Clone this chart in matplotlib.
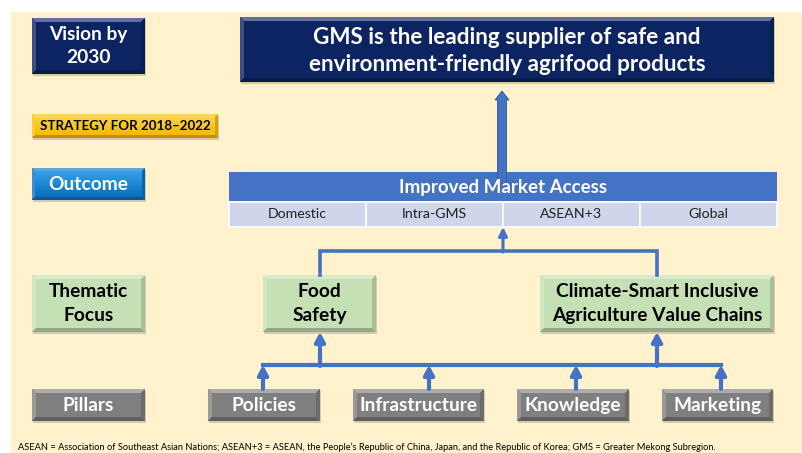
import matplotlib
matplotlib.use('Agg')
import matplotlib.pyplot as plt
from matplotlib.patches import Rectangle, Polygon, FancyArrow
import matplotlib.colors as mcolors
import numpy as np

plt.rcParams['font.family'] = ['Lato', 'DejaVu Sans']

# text content
row_labels = ['Vision by\n2030', 'STRATEGY FOR 2018\u20132022', 'Outcome', 'Thematic\nFocus', 'Pillars']
vision_text = 'GMS is the leading supplier of safe and\nenvironment-friendly agrifood products'
outcome_title = 'Improved Market Access'
markets = ['Domestic', 'Intra-GMS', 'ASEAN+3', 'Global']
themes = ['Food\nSafety', 'Climate-Smart Inclusive\nAgriculture Value Chains']
pillars = ['Policies', 'Infrastructure', 'Knowledge', 'Marketing']
footnote = ('ASEAN = Association of Southeast Asian Nations; ASEAN+3 = ASEAN, the People\u2019s Republic '
            'of China, Japan, and the Republic of Korea; GMS = Greater Mekong Subregion.')

NAVY = '#0c2461'
GREEN = '#c5e0b4'
GREY = '#7f7f7f'
LINE = '#4472c4'

fig = plt.figure(figsize=(8.03, 4.53), dpi=100)
ax = fig.add_axes([0, 0, 1, 1])
ax.set_xlim(0, 803)
ax.set_ylim(453, 0)
ax.axis('off')

# background panel
ax.add_patch(Rectangle((11, 12), 792, 441, facecolor='#fff2cc', edgecolor='none', zorder=0))


def shade(c, f):
    r, g, b = mcolors.to_rgb(c)
    if f > 0:
        return (r + (1 - r) * f, g + (1 - g) * f, b + (1 - b) * f)
    return (r * (1 + f), g * (1 + f), b * (1 + f))


def bevel_box(x0, y0, x1, y1, color, b=4, grad=None, z=2):
    # shadow
    ax.add_patch(Rectangle((x0 + 1.5, y0 + 1.5), x1 - x0, y1 - y0, facecolor='#b8b0a0',
                           edgecolor='none', alpha=0.6, zorder=z - 0.5))
    if grad is None:
        ax.add_patch(Rectangle((x0, y0), x1 - x0, y1 - y0, facecolor=color, edgecolor='none', zorder=z))
    else:
        cmap = mcolors.LinearSegmentedColormap.from_list('g', grad)
        g = np.linspace(0, 1, 64).reshape(-1, 1)
        ax.imshow(g, cmap=cmap, extent=(x0, x1, y1, y0), aspect='auto', zorder=z)
    # bevel edges
    ax.add_patch(Polygon([(x0, y0), (x1, y0), (x1 - b, y0 + b), (x0 + b, y0 + b)],
                         facecolor=shade(color, 0.35), edgecolor='none', zorder=z + 0.1))
    ax.add_patch(Polygon([(x0, y0), (x0 + b, y0 + b), (x0 + b, y1 - b), (x0, y1)],
                         facecolor=shade(color, 0.2), edgecolor='none', zorder=z + 0.1))
    ax.add_patch(Polygon([(x0, y1), (x0 + b, y1 - b), (x1 - b, y1 - b), (x1, y1)],
                         facecolor=shade(color, -0.25), edgecolor='none', zorder=z + 0.1))
    ax.add_patch(Polygon([(x1, y0), (x1, y1), (x1 - b, y1 - b), (x1 - b, y0 + b)],
                         facecolor=shade(color, -0.15), edgecolor='none', zorder=z + 0.1))


def label(x, y, s, size=13.8, color='white', weight='bold', ls=1.45):
    ax.text(x, y, s, ha='center', va='center', fontsize=size, color=color,
            fontweight=weight, linespacing=ls, zorder=5)


# left column of row labels
bevel_box(32, 18, 145, 74, NAVY)
label(88.5, 46, row_labels[0])
bevel_box(32, 114, 218, 138, '#ffc000', b=3, grad=['#ffd84a', '#f2b400'])
label(125, 126.5, row_labels[1], 9.6, color='black')
bevel_box(32, 168, 145, 200, '#0a74c4', b=3, grad=['#3aa6ec', '#0468b8'])
label(88.5, 184.5, row_labels[2])
bevel_box(32, 275, 145, 332, GREEN)
label(88.5, 303.5, row_labels[3], color='black')
bevel_box(32, 389, 145, 421, GREY)
label(88.5, 405.5, row_labels[4])

# vision box
bevel_box(240, 17, 774, 82, NAVY)
label(507, 51, vision_text, 16.2, ls=1.35)

# outcome table
ax.add_patch(Rectangle((229, 172), 548, 29, facecolor=LINE, edgecolor='none', zorder=2))
label(503, 187, outcome_title, 13.5)
cell_w = 548 / len(markets)
for i, m in enumerate(markets):
    x0 = 229 + i * cell_w
    ax.add_patch(Rectangle((x0, 202), cell_w, 25, facecolor='#cfd5ea', edgecolor='white',
                           linewidth=1.2, zorder=2))
    label(x0 + cell_w / 2, 214.5, m, 10.2, color='#222222', weight='normal')

# big arrow from outcome to vision
ax.add_patch(FancyArrow(502, 184, 0, -93, width=9, head_width=14, head_length=9,
                        length_includes_head=True, facecolor=LINE, edgecolor='#2f5597',
                        linewidth=0.6, zorder=4))

# thematic boxes
bevel_box(263, 275, 376, 332, GREEN)
label(319.5, 303.5, themes[0], color='black')
bevel_box(540, 275, 774, 332, GREEN)
label(657, 303.5, themes[1], color='black')

# pillar boxes
pillar_x = [(208, 320), (353, 484), (517, 629), (662, 773)]
for (x0, x1), p in zip(pillar_x, pillars):
    bevel_box(x0, 389, x1, 421, GREY)
    label((x0 + x1) / 2, 405.5, p)

arrow_kw = dict(arrowstyle='-|>,head_length=0.55,head_width=0.3', color=LINE, lw=3,
                shrinkA=0, shrinkB=0)

# connector theme -> outcome
ax.plot([320, 320, 657, 657], [275, 251, 251, 275], color=LINE, lw=2.6, zorder=3,
        solid_joinstyle='miter')
ax.annotate('', xy=(503, 227), xytext=(503, 252), arrowprops=dict(arrowstyle='-|>,head_length=0.5,head_width=0.25',
            color=LINE, lw=2.2, shrinkA=0, shrinkB=0), zorder=3)

# connector pillars -> themes
ax.plot([263, 721], [365, 365], color=LINE, lw=3, zorder=3)
for x in [320, 657]:
    ax.annotate('', xy=(x, 332), xytext=(x, 366), arrowprops=arrow_kw, zorder=3)
for x in [263, 429, 576, 721]:
    ax.annotate('', xy=(x, 365), xytext=(x, 389), arrowprops=arrow_kw, zorder=3)

ax.text(18, 447, footnote, ha='left', va='center', fontsize=6.7, color='black')

fig.savefig('out.png', dpi=100)
